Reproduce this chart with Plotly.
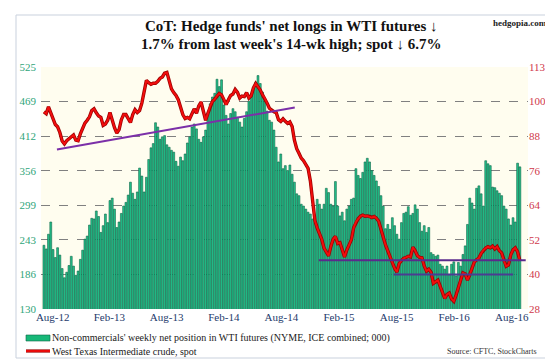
import plotly.graph_objects as go
import pandas as pd

# ---------------- data ----------------
start_date = "2012-08-21"   # first weekly observation (Tuesday)

# Non-commercials' weekly net position in WTI futures (000 contracts)
net_longs = [
    234, 228, 252, 272, 227, 214, 230, 218, 196, 181, 190, 201, 216, 200, 185, 192, 211, 226, 244, 249,
    267, 278, 277, 290, 281, 255, 266, 285, 271, 307, 311, 293, 263, 272, 286, 298, 304, 316, 337, 319,
    309, 321, 360, 347, 321, 345, 374, 393, 400, 434, 427, 407, 411,
    413, 398, 394, 389, 386, 371, 363, 378, 372, 383, 401, 411, 427, 432, 424, 407, 402, 411, 422, 449,
    465, 476, 482, 505, 493, 504, 463, 446, 432, 449, 457, 452, 443, 435, 427, 441, 452, 469, 479, 490,
    500, 511, 498, 484, 469, 453, 438, 435, 422, 394, 370, 383,
    359, 364, 356, 365, 350, 337, 318, 315, 301, 298, 293, 288, 285, 277, 271, 309, 301, 293, 301, 327,
    320, 301, 298, 338, 298, 282, 288, 274, 293, 298, 309, 311, 359, 348, 343, 353, 370, 376, 370, 356,
    348, 339, 330, 315, 298, 261, 268, 260, 279, 266, 252, 244,
    271, 286, 288, 297, 283, 286, 300, 293, 271, 257, 266, 255, 263, 222, 219, 216, 218, 203, 200, 195,
    200, 186, 203, 207, 184, 206, 200, 219, 233, 268, 311, 303, 293, 327, 331, 318, 298, 372, 367, 364,
    329, 328, 323, 319, 315, 298, 293, 277, 267, 279, 272, 368, 362,
]

# West Texas Intermediate crude, spot ($/bbl)
wti_spot = [
    96.7, 96.1, 98.5, 96.5, 93.8, 92.3, 91.5, 89.5, 86.5, 85.5, 86.6, 87.3, 88.2, 88.6, 86.8, 86.6, 89.0, 90.8, 92.8, 93.8,
    95.0, 97.2, 97.8, 96.4, 95.3, 94.8, 92.0, 92.5, 93.8, 96.5, 93.5, 91.2, 89.3, 90.5, 94.0, 95.8, 95.8, 94.3, 93.0, 95.8,
    97.5, 96.5, 97.2, 99.8, 103.8, 107.8, 107.0, 106.4, 106.8, 106.8, 107.5, 108.5, 109.0,
    110.3, 110.6, 107.5, 104.8, 103.5, 102.5, 101.0, 98.0, 95.8, 94.4, 94.8, 94.3, 96.2, 97.8, 96.3, 98.8, 100.2, 97.0, 93.8, 96.2,
    98.8, 100.4, 101.2, 102.4, 103.2, 102.7, 101.3, 99.3, 101.0, 102.5, 103.0, 104.6, 103.6, 101.6, 102.3, 102.1, 103.5, 101.6, 102.4, 105.2,
    106.7, 105.6, 104.4, 102.7, 101.5, 99.8, 98.0, 97.3, 96.8, 96.5, 94.0, 93.4,
    94.3, 93.4, 92.7, 93.2, 91.6, 86.8, 83.8, 82.2, 80.5, 79.6, 78.0, 76.9, 72.5, 65.0, 58.5, 56.0, 54.0, 52.0, 48.9, 47.5,
    46.2, 49.5, 52.0, 53.0, 50.5, 50.8, 48.0, 45.8, 48.2, 50.0, 51.8, 56.0, 58.0, 59.2, 60.1, 60.5, 60.1, 60.2, 60.0, 59.6,
    60.0, 59.4, 58.3, 55.2, 52.7, 50.0, 47.9, 45.6, 43.8, 41.8, 40.5, 43.5,
    44.5, 45.3, 45.6, 46.0, 45.8, 49.2, 48.0, 46.2, 45.6, 45.5, 42.6, 40.8, 41.5, 40.4, 36.5, 37.2, 37.6, 35.5, 33.5, 31.2,
    32.6, 33.1, 31.0, 30.2, 32.4, 35.2, 37.8, 40.2, 39.8, 37.6, 39.6, 42.2, 44.0, 44.8, 45.4, 47.0, 48.2, 48.9, 49.4, 49.0,
    49.6, 48.6, 49.4, 48.0, 47.2, 44.4, 42.5, 43.0, 46.5, 48.3, 49.0, 47.6, 44.4,
]

# trend / support lines drawn on the spot-price axis
trend_dates = ["2012-09-30", "2014-10-01"]
trend_values = [83.5, 98.3]
support_hi_dates = ["2014-12-14", "2016-09-10"]
support_hi_values = [44.6, 44.6]
support_lo_dates = ["2015-08-01", "2016-08-02"]
support_lo_values = [39.6, 39.6]

x_tick_dates = ["2012-09-17", "2013-03-10", "2013-09-02", "2014-02-25", "2014-08-21",
                "2015-02-14", "2015-08-10", "2016-02-03", "2016-07-29"]
x_tick_labels = ["Aug-12", "Feb-13", "Aug-13", "Feb-14", "Aug-14", "Feb-15", "Aug-15", "Feb-16", "Aug-16"]
left_tick_labels = ["130", "186", "243", "299", "356", "412", "469", "525"]
right_tick_labels = ["28", "40", "52", "64", "76", "88", "100", "113"]

# ---------------- figure ----------------
dates = pd.date_range(start_date, periods=len(net_longs), freq="7D")

W, H = 553, 360
L, R, T, B = 33, 33, 59, 59
PW, PH = W - L - R, H - T - B


def px(x):
    return (x - L) / PW


def py(y):
    return (H - B - y) / PH


FONT = "Liberation Serif, Times New Roman, serif"

fig = go.Figure()
fig.add_trace(go.Bar(
    x=dates, y=net_longs, yaxis="y",
    marker=dict(color="#24C28C", line=dict(color="#0B6446", width=0.6)),
    showlegend=False,
))
fig.add_trace(go.Scatter(
    x=dates, y=wti_spot, yaxis="y2", mode="lines",
    line=dict(color="#9A0000", width=3.4), showlegend=False, hoverinfo="skip",
))
fig.add_trace(go.Scatter(
    x=dates, y=wti_spot, yaxis="y2", mode="lines",
    line=dict(color="#F20D0D", width=1.9), showlegend=False,
))
fig.add_trace(go.Scatter(
    x=trend_dates, y=trend_values, yaxis="y2", mode="lines",
    line=dict(color="#7B2FA8", width=2), showlegend=False,
))
fig.add_trace(go.Scatter(
    x=support_hi_dates, y=support_hi_values, yaxis="y2", mode="lines",
    line=dict(color="#5B2A8C", width=2), showlegend=False,
))
fig.add_trace(go.Scatter(
    x=support_lo_dates, y=support_lo_values, yaxis="y2", mode="lines",
    line=dict(color="#4B3C92", width=2), showlegend=False,
))

left_vals = [130 + k * (525 - 130) / 7 for k in range(8)]
right_vals = [27.5 + k * (112.5 - 27.5) / 7 for k in range(8)]

fig.update_layout(
    width=W, height=H,
    margin=dict(l=L, r=R, t=T, b=B),
    paper_bgcolor="white",
    plot_bgcolor="#FFFDEF",
    bargap=0.18,
    font=dict(family=FONT),
    xaxis=dict(
        type="date",
        range=["2012-08-12", "2016-09-17"],
        tickvals=x_tick_dates, ticktext=x_tick_labels,
        tickfont=dict(size=11, color="#243A6B", family=FONT),
        showgrid=False, zeroline=False, showline=False, ticks="", ticklen=0,
    ),
    yaxis=dict(
        range=[130, 525], tickvals=left_vals, ticktext=left_tick_labels,
        tickfont=dict(size=11, color="#2FA57A", family=FONT),
        showgrid=True, gridcolor="#808080", griddash="dash", gridwidth=1,
        zeroline=False, showline=False, ticks="", ticklabelstandoff=4,
    ),
    yaxis2=dict(
        range=[27.5, 112.5], tickvals=right_vals, ticktext=right_tick_labels,
        overlaying="y", side="right",
        tickfont=dict(size=11, color="#D0384A", family=FONT),
        showgrid=False, zeroline=False, showline=False, ticks="",
    ),
)

shapes = [
    dict(type="rect", xref="paper", yref="paper", x0=px(8), x1=px(546), y0=py(350), y1=py(7),
         line=dict(color="#C9D1DD", width=1), fillcolor="rgba(0,0,0,0)", layer="below"),
    dict(type="rect", xref="paper", yref="paper", x0=px(18), x1=px(42), y0=py(333), y1=py(327),
         line=dict(color="#0B6446", width=0.6), fillcolor="#17B878"),
    dict(type="line", xref="paper", yref="paper", x0=px(18), x1=px(42), y0=py(343), y1=py(343),
         line=dict(color="#9A0000", width=3.2)),
    dict(type="line", xref="paper", yref="paper", x0=px(18), x1=px(42), y0=py(343), y1=py(343),
         line=dict(color="#F20D0D", width=1.8)),
]

annotations = [
    dict(text="<b>CoT: Hedge funds' net longs in WTI futures ↓</b>", x=px(283), y=py(18),
         xref="paper", yref="paper", showarrow=False, xanchor="center", yanchor="middle",
         font=dict(size=15, color="#111111", family=FONT)),
    dict(text="<b>1.7% from last week's 14-wk high; spot ↓ 6.7%</b>", x=px(283), y=py(36),
         xref="paper", yref="paper", showarrow=False, xanchor="center", yanchor="middle",
         font=dict(size=15, color="#111111", family=FONT)),
    dict(text="<b>hedgopia.com</b>", x=px(541), y=py(15),
         xref="paper", yref="paper", showarrow=False, xanchor="right", yanchor="middle",
         font=dict(size=9, color="#222222", family=FONT)),
    dict(text="Non-commercials' weekly net position in WTI futures (NYME, ICE combined; 000)",
         x=px(42), y=py(330), xref="paper", yref="paper", showarrow=False,
         xanchor="left", yanchor="middle", font=dict(size=10, color="#1A1A1A", family=FONT)),
    dict(text="West Texas Intermediate crude, spot",
         x=px(42), y=py(343), xref="paper", yref="paper", showarrow=False,
         xanchor="left", yanchor="middle", font=dict(size=10, color="#1A1A1A", family=FONT)),
    dict(text="Source: CFTC, StockCharts",
         x=px(531), y=py(343), xref="paper", yref="paper", showarrow=False,
         xanchor="right", yanchor="middle", font=dict(size=8, color="#333333", family=FONT)),
]

fig.update_layout(shapes=shapes, annotations=annotations)
fig.write_html("out.html")
